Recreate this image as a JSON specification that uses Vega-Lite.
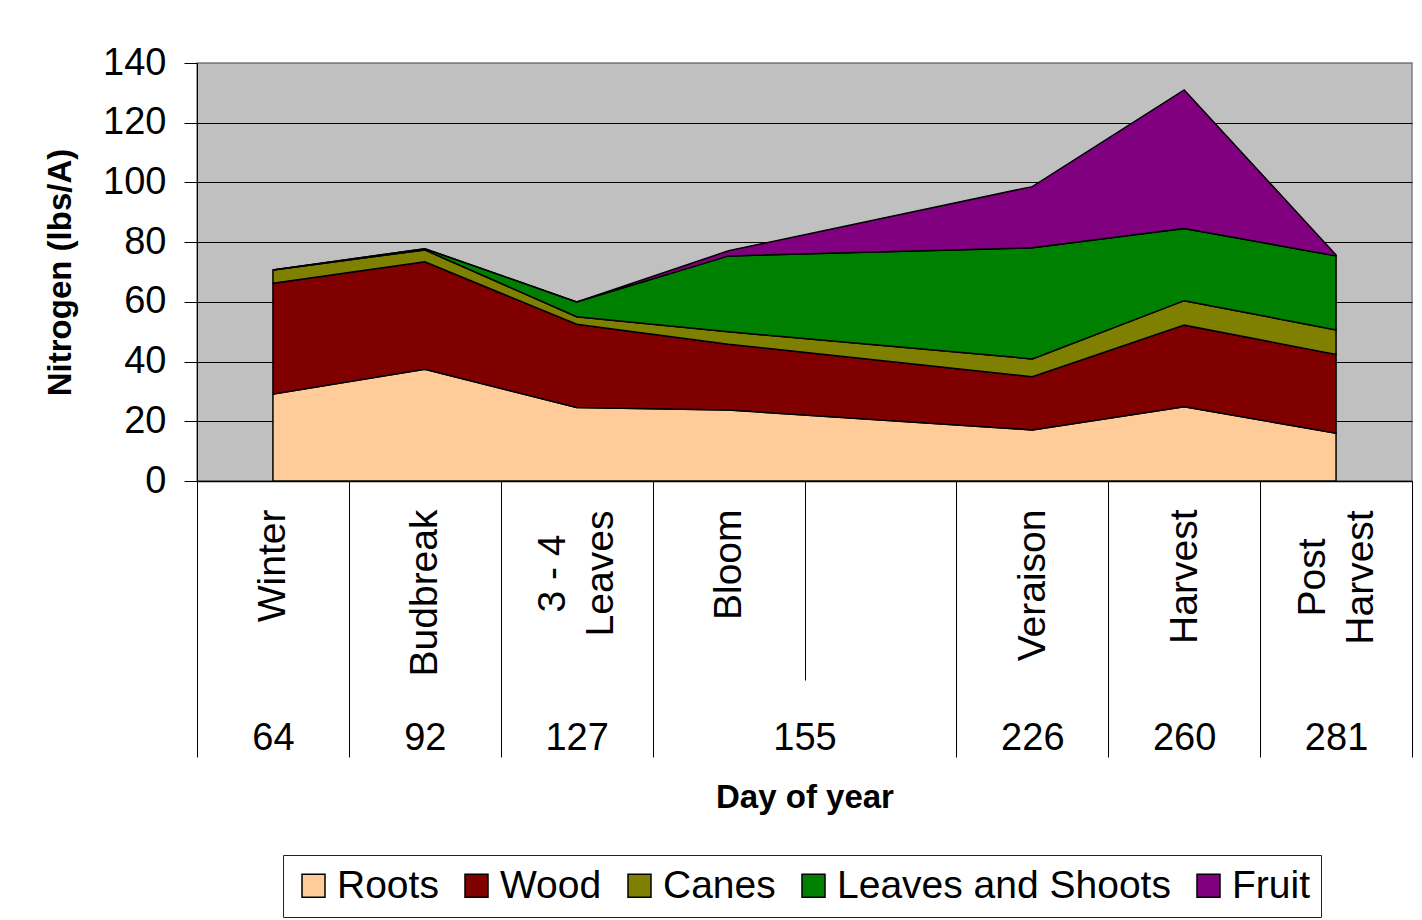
{
  "$schema": "https://vega.github.io/schema/vega-lite/v6.json",
  "width": 1215,
  "height": 418,
  "autosize": {"type": "none"},
  "padding": {"left": 197, "top": 63, "right": 10, "bottom": 439},
  "background": "white",
  "config": {
    "font": "Liberation Sans",
    "view": {"fill": "#C0C0C0", "stroke": "#808080", "strokeWidth": 1.5},
    "axis": {"labelColor": "black", "titleColor": "black", "domainColor": "black", "tickColor": "black", "labelFont": "Liberation Sans", "titleFont": "Liberation Sans"}
  },
  "datasets": {
    "parts": [
      {"slot": 1, "stage": "Winter", "part": "Roots", "nitrogen": 29.1},
      {"slot": 1, "stage": "Winter", "part": "Wood", "nitrogen": 37.1},
      {"slot": 1, "stage": "Winter", "part": "Canes", "nitrogen": 4.5},
      {"slot": 1, "stage": "Winter", "part": "Leaves and Shoots", "nitrogen": 0},
      {"slot": 1, "stage": "Winter", "part": "Fruit", "nitrogen": 0},
      {"slot": 2, "stage": "Budbreak", "part": "Roots", "nitrogen": 37.4},
      {"slot": 2, "stage": "Budbreak", "part": "Wood", "nitrogen": 36.0},
      {"slot": 2, "stage": "Budbreak", "part": "Canes", "nitrogen": 4.0},
      {"slot": 2, "stage": "Budbreak", "part": "Leaves and Shoots", "nitrogen": 0.4},
      {"slot": 2, "stage": "Budbreak", "part": "Fruit", "nitrogen": 0},
      {"slot": 3, "stage": "3 - 4 Leaves", "part": "Roots", "nitrogen": 24.6},
      {"slot": 3, "stage": "3 - 4 Leaves", "part": "Wood", "nitrogen": 27.9},
      {"slot": 3, "stage": "3 - 4 Leaves", "part": "Canes", "nitrogen": 2.5},
      {"slot": 3, "stage": "3 - 4 Leaves", "part": "Leaves and Shoots", "nitrogen": 5.0},
      {"slot": 3, "stage": "3 - 4 Leaves", "part": "Fruit", "nitrogen": 0},
      {"slot": 4, "stage": "Bloom", "part": "Roots", "nitrogen": 23.8},
      {"slot": 4, "stage": "Bloom", "part": "Wood", "nitrogen": 22.0},
      {"slot": 4, "stage": "Bloom", "part": "Canes", "nitrogen": 4.2},
      {"slot": 4, "stage": "Bloom", "part": "Leaves and Shoots", "nitrogen": 25.4},
      {"slot": 4, "stage": "Bloom", "part": "Fruit", "nitrogen": 1.7},
      {"slot": 6, "stage": "Veraison", "part": "Roots", "nitrogen": 17.1},
      {"slot": 6, "stage": "Veraison", "part": "Wood", "nitrogen": 17.8},
      {"slot": 6, "stage": "Veraison", "part": "Canes", "nitrogen": 6.0},
      {"slot": 6, "stage": "Veraison", "part": "Leaves and Shoots", "nitrogen": 37.2},
      {"slot": 6, "stage": "Veraison", "part": "Fruit", "nitrogen": 20.5},
      {"slot": 7, "stage": "Harvest", "part": "Roots", "nitrogen": 24.9},
      {"slot": 7, "stage": "Harvest", "part": "Wood", "nitrogen": 27.3},
      {"slot": 7, "stage": "Harvest", "part": "Canes", "nitrogen": 8.2},
      {"slot": 7, "stage": "Harvest", "part": "Leaves and Shoots", "nitrogen": 24.2},
      {"slot": 7, "stage": "Harvest", "part": "Fruit", "nitrogen": 46.4},
      {"slot": 8, "stage": "Post Harvest", "part": "Roots", "nitrogen": 16.0},
      {"slot": 8, "stage": "Post Harvest", "part": "Wood", "nitrogen": 26.4},
      {"slot": 8, "stage": "Post Harvest", "part": "Canes", "nitrogen": 8.2},
      {"slot": 8, "stage": "Post Harvest", "part": "Leaves and Shoots", "nitrogen": 24.8},
      {"slot": 8, "stage": "Post Harvest", "part": "Fruit", "nitrogen": 0.3}
    ],
    "days": [
      {"pos": 1, "day": 64},
      {"pos": 2, "day": 92},
      {"pos": 3, "day": 127},
      {"pos": 4.5, "day": 155},
      {"pos": 6, "day": 226},
      {"pos": 7, "day": 260},
      {"pos": 8, "day": 281}
    ]
  },
  "layer": [
    {
      "data": {"name": "parts"},
      "transform": [
        {"calculate": "indexof(['Roots', 'Wood', 'Canes', 'Leaves and Shoots', 'Fruit'], datum.part)", "as": "stackOrder"}
      ],
      "mark": {"type": "area", "stroke": "black", "strokeWidth": 1.5, "interpolate": "linear", "opacity": 1},
      "encoding": {
        "x": {
          "field": "slot", "type": "quantitative",
          "scale": {"domain": [0.5, 8.5], "nice": false, "zero": false},
          "axis": {"orient": "bottom", "values": [0.5, 1.5, 2.5, 3.5, 5.5, 6.5, 7.5, 8.5], "tickSize": 276, "tickWidth": 1, "labels": false, "title": null, "grid": false, "domain": true, "domainWidth": 1.5}
        },
        "y": {
          "field": "nitrogen", "type": "quantitative", "stack": "zero",
          "scale": {"domain": [0, 140], "nice": false},
          "axis": {
            "values": [0, 20, 40, 60, 80, 100, 120, 140],
            "title": "Nitrogen (lbs/A)", "titleFontSize": 33, "titleFontWeight": "bold", "titlePadding": 25,
            "labelFontSize": 38, "labelPadding": 18, "tickSize": 13, "tickWidth": 1, "labelFlush": false, "labelOverlap": false,
            "grid": true, "gridColor": {"condition": {"test": "datum.value == 140", "value": "#808080"}, "value": "black"}, "gridWidth": 1, "gridOpacity": 1,
            "domainWidth": 1
          }
        },
        "order": {"field": "stackOrder", "type": "quantitative", "sort": "ascending"},
        "color": {
          "field": "part", "type": "nominal",
          "sort": ["Roots", "Wood", "Canes", "Leaves and Shoots", "Fruit"],
          "scale": {"domain": ["Roots", "Wood", "Canes", "Leaves and Shoots", "Fruit"], "range": ["#FFCC99", "#800000", "#808000", "#008000", "#800080"]},
          "legend": {
            "orient": "none", "legendX": 86, "legendY": 792, "direction": "horizontal", "title": null,
            "strokeColor": "#222222", "fillColor": "white", "padding": 11,
            "symbolType": "square", "symbolSize": 529, "symbolStrokeColor": "black", "symbolStrokeWidth": 1.5, "symbolOpacity": 1,
            "labelFontSize": 39, "labelFont": "Liberation Sans", "labelColor": "black", "labelLimit": 500, "labelOffset": 4, "columnPadding": 18
          }
        }
      }
    },
    {
      "data": {"name": "parts"},
      "mark": {"type": "point", "opacity": 0},
      "encoding": {
        "x": {
          "field": "slot", "type": "quantitative",
          "scale": {"domain": [0.5, 8.5], "nice": false, "zero": false},
          "axis": {
            "orient": "bottom", "values": [1, 2, 3, 4, 6, 7, 8], "ticks": false, "tickSize": 0, "domain": false, "grid": false, "title": null,
            "labelAngle": -90,
            "labelAlign": {"condition": {"test": "datum.value == 3 || datum.value == 8", "value": "center"}, "value": "right"},
            "labelBaseline": "middle",
            "labelPadding": {"condition": [{"test": "datum.value == 3", "value": 92}, {"test": "datum.value == 8", "value": 96}], "value": 28},
            "labelFontSize": 39, "labelLineHeight": 48,
            "labelOffset": {"condition": {"test": "datum.value == 3 || datum.value == 8", "value": -24}, "value": 0},
            "labelOverlap": false, "labelFlush": false, "labelBound": false,
            "labelExpr": "datum.value == 1 ? 'Winter' : datum.value == 2 ? 'Budbreak' : datum.value == 3 ? ['3 - 4', 'Leaves'] : datum.value == 4 ? 'Bloom' : datum.value == 6 ? 'Veraison' : datum.value == 7 ? 'Harvest' : ['Post', 'Harvest']"
          }
        }
      }
    },
    {
      "data": {"name": "days"},
      "mark": {"type": "point", "opacity": 0},
      "encoding": {
        "x": {
          "field": "pos", "type": "quantitative",
          "scale": {"domain": [0.5, 8.5], "nice": false, "zero": false},
          "axis": {"orient": "bottom", "values": [4.5], "tickSize": 199, "tickWidth": 1, "labels": false, "domain": false, "grid": false, "title": null}
        }
      }
    },
    {
      "data": {"name": "days"},
      "mark": {"type": "point", "opacity": 0},
      "encoding": {
        "x": {
          "field": "pos", "type": "quantitative",
          "scale": {"domain": [0.5, 8.5], "nice": false, "zero": false},
          "axis": {
            "orient": "bottom", "values": [1, 2, 3, 4.5, 6, 7, 8], "ticks": false, "tickSize": 0, "domain": false, "grid": false,
            "labelPadding": 238, "labelFontSize": 38, "labelOverlap": false, "labelFlush": false, "labelBound": false,
            "labelExpr": "datum.value == 1 ? '64' : datum.value == 2 ? '92' : datum.value == 3 ? '127' : datum.value == 4.5 ? '155' : datum.value == 6 ? '226' : datum.value == 7 ? '260' : '281'",
            "title": "Day of year", "titleFontSize": 33, "titleFontWeight": "bold", "titlePadding": 100
          }
        }
      }
    }
  ],
  "resolve": {"axis": {"x": "independent"}}
}
